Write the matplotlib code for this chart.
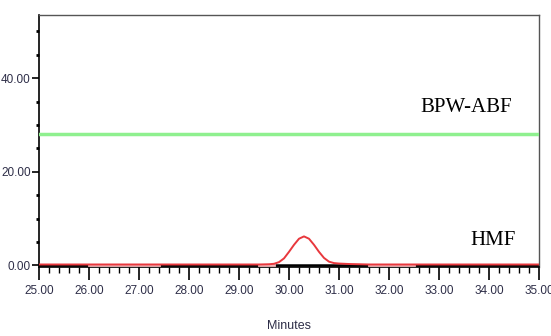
import matplotlib.pyplot as plt
from matplotlib.ticker import MultipleLocator, FormatStrFormatter

# chromatogram traces
HMF_T = [25.0, 29.4, 29.6, 29.7, 29.8, 29.9, 30.0, 30.1, 30.2, 30.3, 30.4, 30.5,
         30.6, 30.7, 30.8, 30.9, 31.0, 31.2, 31.4, 31.6, 32.0, 35.0]
HMF_V = [0.2, 0.2, 0.25, 0.35, 0.7, 1.5, 2.9, 4.4, 5.7, 6.2, 5.7, 4.4,
         2.9, 1.6, 0.8, 0.5, 0.4, 0.3, 0.25, 0.2, 0.2, 0.2]
BPW_T = [25.0, 35.0]
BPW_V = [28.1, 28.1]
# pale pink baseline patches
PALE_SEGS = [(26.0, 27.4), (29.4, 29.7), (31.6, 32.5)]

LABEL_FONT = ["Liberation Sans", "DejaVu Sans"]
TICK_COLOR = "#2e2e48"


def main():
    fig = plt.figure(figsize=(5.51, 3.36), dpi=100)
    ax = fig.add_axes([0.0708, 0.2045, 0.9074, 0.751])

    ax.axhline(0, color="black", lw=1.8, zorder=2)
    ax.plot(BPW_T, BPW_V, color="#8ff08f", lw=2.5, zorder=3)
    for a, b in PALE_SEGS:
        ax.plot([a, b], [0.15, 0.15], color="#f4b6b8", lw=2.0, zorder=3)
    ax.plot(HMF_T, HMF_V, color="#e8383d", lw=1.4, zorder=4)

    ax.set_xlim(25, 35)
    ax.set_ylim(-0.4, 53.5)

    ax.xaxis.set_major_locator(MultipleLocator(1))
    ax.xaxis.set_minor_locator(MultipleLocator(0.2))
    ax.yaxis.set_major_locator(MultipleLocator(20))
    ax.yaxis.set_minor_locator(MultipleLocator(5))
    ax.xaxis.set_major_formatter(FormatStrFormatter("%.2f"))
    ax.yaxis.set_major_formatter(FormatStrFormatter("%.2f"))

    ax.tick_params(axis="x", which="major", direction="out", length=9, width=1.2,
                   pad=4, labelsize=8.5, labelcolor=TICK_COLOR)
    ax.tick_params(axis="x", which="minor", direction="out", length=4, width=1.0)
    ax.tick_params(axis="y", which="major", direction="out", length=5, width=1.2,
                   pad=1, labelsize=8.5, labelcolor=TICK_COLOR)
    ax.tick_params(axis="y", which="minor", direction="out", length=2, width=2.0)
    for lab in ax.get_xticklabels() + ax.get_yticklabels():
        lab.set_family(LABEL_FONT)

    for side in ["top", "right"]:
        ax.spines[side].set_color("#555555")
        ax.spines[side].set_linewidth(1.0)
    ax.spines["left"].set_linewidth(1.2)
    ax.spines["bottom"].set_linewidth(1.2)

    ax.set_xlabel("Minutes", family=LABEL_FONT, fontsize=9, color=TICK_COLOR, labelpad=16)

    ax.text(34.46, 33.8, "BPW-ABF", family="Liberation Serif", fontsize=15,
            ha="right", va="center")
    ax.text(34.54, 5.4, "HMF", family="Liberation Serif", fontsize=15,
            ha="right", va="center")

    fig.savefig("out.png", dpi=100)


if __name__ == "__main__":
    main()
